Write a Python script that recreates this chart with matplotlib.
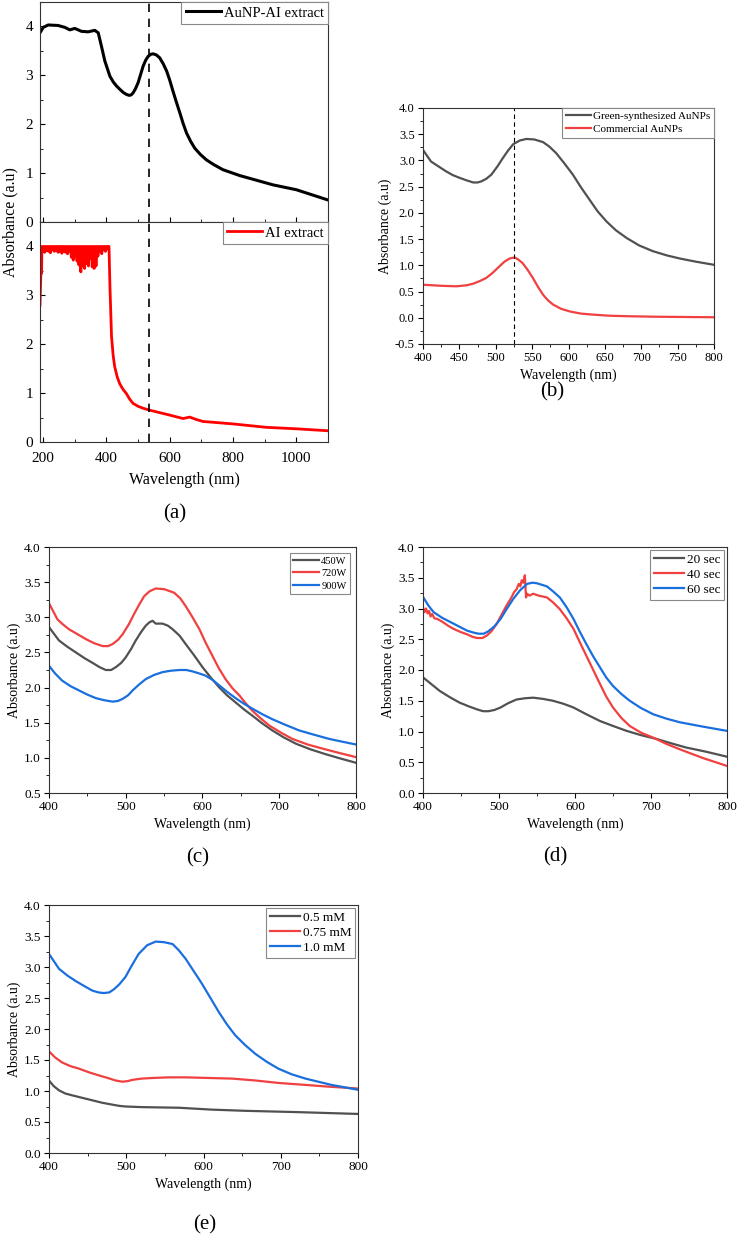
import numpy as np
import matplotlib
matplotlib.use("Agg")
import matplotlib.pyplot as plt
from matplotlib.ticker import FormatStrFormatter

plt.rcParams['font.family'] = ['Liberation Serif', 'DejaVu Serif']
plt.rcParams['lines.solid_joinstyle'] = 'round'

W, H = 738, 1239

# colours (Origin style)
GRAY = '#515151'
RED = '#F14040'
BLUE = '#1A6FDF'

# ---------------- data ----------------
# (a) top: AuNP-AI extract
wl_a1 = [190, 200, 216, 247, 269, 284, 300, 321, 342, 363, 374, 384, 395, 411, 422, 432,
         443, 453, 463, 472, 478, 484, 492, 500, 508, 516, 524, 532, 540, 547, 557, 568,
         579, 590, 600, 610, 621, 632, 642, 653, 666, 679, 697, 716, 740, 768, 821, 926,
         1000, 1100]
abs_a1 = [3.87, 3.98, 4.03, 4.02, 3.98, 3.93, 3.96, 3.90, 3.89, 3.92, 3.87, 3.60, 3.29,
          2.98, 2.86, 2.78, 2.71, 2.65, 2.61, 2.59, 2.60, 2.64, 2.73, 2.85, 3.02, 3.19,
          3.31, 3.39, 3.43, 3.44, 3.42, 3.36, 3.24, 3.09, 2.90, 2.68, 2.45, 2.23, 2.02,
          1.82, 1.65, 1.51, 1.38, 1.27, 1.17, 1.07, 0.95, 0.76, 0.66, 0.45]

# (a) bottom: AI extract (noisy saturated plateau then decay)
wl_a2 = [190, 193, 195] + list(np.arange(196, 407, 3)) + [408, 411, 416, 421, 426, 434,
                                                          442, 452, 463, 473, 484, 500,
                                                          516, 537, 600, 642, 663, 684,
                                                          705, 800, 905, 1000, 1100]
plateau_low = [3.9, 3.88, 3.92, 3.9, 3.87, 3.93, 3.9, 3.92, 3.88, 3.9, 3.86, 3.9, 3.88,
               3.85, 3.9, 3.78, 3.72, 3.8, 3.7, 3.62, 3.48, 3.6, 3.55, 3.65, 3.6, 3.75,
               3.58, 3.55, 3.6, 3.8, 3.9, 3.85, 3.93, 3.9, 3.95]
plateau = []
for i in range(36):
    plateau.append(4.0)
    if i < 35:
        plateau.append(plateau_low[i])
abs_a2 = [2.80, 3.5, 3.45] + plateau + [4.0, 3.18, 2.16, 1.78, 1.54, 1.33, 1.19, 1.08,
                                        0.99, 0.88, 0.79, 0.73, 0.69, 0.65, 0.55, 0.48,
                                        0.51, 0.46, 0.42, 0.37, 0.30, 0.27, 0.23]

# (b)
wl_b1 = [400, 411, 422, 432, 441, 450, 460, 469, 475, 480, 487, 494, 502, 510, 517, 524,
         533, 542, 553, 565, 574, 583, 594, 606, 617, 629, 640, 652, 665, 680, 697, 716,
         735, 753, 775, 800]
abs_b1 = [3.20, 2.98, 2.88, 2.79, 2.72, 2.67, 2.62, 2.58, 2.58, 2.60, 2.65, 2.73, 2.88,
          3.05, 3.19, 3.31, 3.38, 3.41, 3.40, 3.35, 3.26, 3.14, 2.95, 2.73, 2.49, 2.25,
          2.03, 1.84, 1.67, 1.52, 1.38, 1.27, 1.19, 1.13, 1.07, 1.01]
wl_b2 = [400, 425, 446, 460, 469, 478, 487, 496, 505, 512, 519, 526, 531, 537, 544, 551,
         558, 565, 572, 579, 590, 602, 617, 634, 655, 680, 720, 800]
abs_b2 = [0.63, 0.61, 0.60, 0.62, 0.65, 0.70, 0.76, 0.86, 0.98, 1.07, 1.13, 1.15, 1.11,
          1.04, 0.91, 0.76, 0.59, 0.44, 0.33, 0.25, 0.17, 0.12, 0.08, 0.06, 0.04, 0.03,
          0.02, 0.01]

# (c) microwave power
wl_c1 = [400, 413, 424, 435, 446, 457, 466, 474, 481, 487, 494, 500, 507, 513, 520, 526,
         531, 535, 539, 548, 555, 561, 570, 578, 589, 600, 611, 622, 632, 643, 654, 665,
         678, 691, 706, 722, 741, 761, 780, 800]
abs_c1 = [2.86, 2.67, 2.58, 2.50, 2.42, 2.35, 2.29, 2.25, 2.25, 2.29, 2.35, 2.43, 2.55,
          2.67, 2.79, 2.88, 2.93, 2.95, 2.91, 2.91, 2.88, 2.83, 2.74, 2.62, 2.46, 2.29,
          2.14, 2.00, 1.89, 1.79, 1.69, 1.60, 1.49, 1.39, 1.29, 1.20, 1.12, 1.05, 0.99,
          0.93]
wl_c2 = [400, 411, 418, 426, 437, 448, 459, 470, 477, 483, 490, 496, 504, 511, 518, 524,
         531, 539, 550, 563, 571, 578, 587, 596, 604, 613, 621, 630, 639, 648, 656, 665,
         676, 687, 702, 717, 737, 757, 778, 800]
abs_c2 = [3.20, 2.97, 2.90, 2.83, 2.76, 2.69, 2.63, 2.59, 2.59, 2.62, 2.68, 2.76, 2.90,
          3.05, 3.19, 3.30, 3.37, 3.41, 3.40, 3.35, 3.27, 3.16, 3.00, 2.83, 2.64, 2.45,
          2.28, 2.12, 1.99, 1.89, 1.78, 1.67, 1.56, 1.46, 1.36, 1.27, 1.19, 1.13, 1.07,
          1.01]
wl_c3 = [400, 408, 417, 428, 439, 450, 461, 472, 483, 490, 496, 503, 509, 517, 526, 537,
         548, 559, 570, 579, 587, 596, 604, 613, 622, 632, 643, 654, 665, 678, 691, 708,
         726, 745, 765, 782, 800]
abs_c3 = [2.31, 2.20, 2.10, 2.02, 1.96, 1.90, 1.85, 1.82, 1.80, 1.81, 1.84, 1.89, 1.96,
          2.04, 2.12, 2.18, 2.22, 2.24, 2.25, 2.25, 2.23, 2.20, 2.17, 2.11, 2.03, 1.94,
          1.85, 1.77, 1.70, 1.62, 1.55, 1.47, 1.39, 1.33, 1.27, 1.23, 1.19]

# (d) irradiation time
wl_d1 = [400, 411, 422, 435, 448, 460, 471, 479, 486, 494, 502, 512, 523, 534, 545, 558,
         571, 585, 598, 615, 633, 650, 668, 687, 707, 726, 746, 773, 800]
abs_d1 = [1.88, 1.77, 1.66, 1.56, 1.47, 1.41, 1.36, 1.33, 1.33, 1.35, 1.39, 1.46, 1.52,
          1.54, 1.55, 1.53, 1.50, 1.45, 1.39, 1.28, 1.17, 1.09, 1.01, 0.94, 0.88, 0.81,
          0.74, 0.67, 0.59]
wl_d2 = [400, 402, 404, 406, 408, 410, 412, 415, 419, 426, 433, 440, 449, 458, 465, 471,
         478, 484, 490, 497, 503, 510, 516, 520, 523, 526, 528, 530, 532, 534, 535.6, 537,
         540, 545, 552, 563, 571, 580, 589, 598, 606, 615, 624, 633, 641, 650, 661, 672,
         687, 703, 720, 738, 768, 800]
abs_d2 = [3.02, 2.94, 3.00, 2.92, 2.96, 2.87, 2.91, 2.84, 2.83, 2.78, 2.72, 2.67, 2.62,
          2.58, 2.54, 2.52, 2.52, 2.56, 2.63, 2.75, 2.89, 3.05, 3.17, 3.27, 3.31, 3.40,
          3.36, 3.46, 3.42, 3.54, 3.18, 3.24, 3.21, 3.24, 3.21, 3.18, 3.10, 2.99, 2.84,
          2.67, 2.46, 2.23, 2.00, 1.77, 1.57, 1.39, 1.22, 1.09, 0.98, 0.90, 0.80, 0.71,
          0.57, 0.44]
wl_d3 = [400, 407, 414, 425, 436, 447, 458, 466, 473, 480, 486, 494, 502, 510, 519, 528,
         537, 544, 550, 563, 571, 580, 589, 598, 606, 615, 624, 633, 641, 650, 661, 672,
         687, 703, 720, 738, 768, 800]
abs_d3 = [3.19, 3.05, 2.94, 2.85, 2.78, 2.71, 2.64, 2.61, 2.59, 2.59, 2.63, 2.71, 2.83,
          2.99, 3.16, 3.30, 3.40, 3.42, 3.41, 3.36, 3.28, 3.18, 3.02, 2.83, 2.63, 2.42,
          2.22, 2.04, 1.88, 1.74, 1.61, 1.50, 1.38, 1.28, 1.21, 1.15, 1.08, 1.01]

# (e) gold salt concentration
wl_e1 = [400, 406, 413, 421, 430, 443, 456, 469, 482, 491, 499, 520, 568, 610, 655, 720,
         800]
abs_e1 = [1.17, 1.08, 1.01, 0.96, 0.93, 0.89, 0.85, 0.81, 0.78, 0.76, 0.75, 0.74, 0.73,
          0.70, 0.68, 0.66, 0.63]
wl_e2 = [400, 408, 417, 428, 439, 452, 465, 476, 486, 495, 502, 508, 520, 534, 555, 577,
         607, 637, 667, 697, 730, 762, 800]
abs_e2 = [1.64, 1.54, 1.46, 1.40, 1.36, 1.30, 1.25, 1.21, 1.17, 1.15, 1.16, 1.18, 1.20,
          1.21, 1.22, 1.22, 1.21, 1.20, 1.17, 1.13, 1.10, 1.07, 1.04]
wl_e3 = [400, 413, 424, 435, 446, 456, 464, 471, 478, 484, 491, 499, 507, 516, 527, 538,
         549, 560, 568, 577, 587, 598, 609, 620, 630, 641, 654, 667, 682, 697, 714, 732,
         765, 800]
abs_e3 = [3.21, 2.97, 2.86, 2.77, 2.69, 2.62, 2.59, 2.58, 2.59, 2.64, 2.72, 2.84, 3.02,
          3.21, 3.35, 3.41, 3.40, 3.37, 3.27, 3.13, 2.94, 2.73, 2.50, 2.27, 2.08, 1.90,
          1.74, 1.60, 1.47, 1.36, 1.27, 1.20, 1.10, 1.02]


def add_ax(x0, y0, x1, y1):
    return fig.add_axes([x0 / W, 1 - y1 / H, (x1 - x0) / W, (y1 - y0) / H])


def style(ax, size=8, direction='out'):
    ax.tick_params(which='both', direction=direction, labelsize=size, top=False,
                   right=False, pad=2.5)
    ax.tick_params(which='major', length=3.5)
    ax.tick_params(which='minor', length=2)
    for s in ax.spines.values():
        s.set_color('#333333')
        s.set_linewidth(0.8)


def legend(ax, fs, hl=2.4, sp=0.25, **kw):
    leg = ax.legend(loc='upper right', fontsize=fs, fancybox=False, framealpha=1,
                    edgecolor='#888888', handlelength=hl, handletextpad=0.2,
                    labelspacing=sp, borderpad=0.3, **kw)
    leg.get_frame().set_linewidth(0.8)
    return leg


def uv_axes(ax, ymin, ystep_major, xstep, lab_fs=10, tick_fs=9.5):
    ax.set_xlim(400, 800)
    ax.set_ylim(ymin, 4.0)
    ax.set_xticks(np.arange(400, 801, xstep))
    ax.set_xticks(np.arange(400, 801, xstep / 2), minor=True)
    ax.set_yticks(np.arange(ymin, 4.01, ystep_major))
    ax.set_yticks(np.arange(ymin, 4.01, ystep_major / 2), minor=True)
    ax.yaxis.set_major_formatter(FormatStrFormatter('%.1f'))
    style(ax, tick_fs)
    ax.set_xlabel('Wavelength (nm)', fontsize=lab_fs, labelpad=3)
    ax.set_ylabel('Absorbance (a.u)', fontsize=lab_fs, labelpad=2)


fig = plt.figure(figsize=(W / 100, H / 100), dpi=100)

# ---------- (a) ----------
ax1 = add_ax(40, 2, 328, 222)
ax1.plot(wl_a1, abs_a1, color='black', lw=2.2, label='AuNP-AI extract')
ax1.axvline(535, color='black', ls=(0, (5, 4)), lw=1.2)
ax1.set_xlim(190, 1100)
ax1.set_ylim(0, 4.5)
ax1.set_yticks([0, 1, 2, 3, 4])
ax1.set_yticks(np.arange(0, 4.6, 0.5), minor=True)
ax1.set_xticks([200, 400, 600, 800, 1000])
ax1.set_xticks(np.arange(200, 1101, 100), minor=True)
ax1.set_xticklabels([])
style(ax1, 11, 'in')
ax1.tick_params(axis='y', pad=5)
legend(ax1, 10.5, hl=2.4, borderaxespad=0)

ax2 = add_ax(40, 222, 328, 442)
ax2.plot(wl_a2, abs_a2, color='#FF0000', lw=2.0, label='AI extract')
ax2.axvline(535, color='black', ls=(0, (5, 4)), lw=1.2)
ax2.set_xlim(190, 1100)
ax2.set_ylim(0, 4.5)
ax2.set_yticks([0, 1, 2, 3, 4])
ax2.set_yticks(np.arange(0, 4.6, 0.5), minor=True)
ax2.set_xticks([200, 400, 600, 800, 1000])
ax2.set_xticks(np.arange(200, 1101, 100), minor=True)
style(ax2, 11, 'in')
ax2.tick_params(axis='y', pad=5)
ax2.tick_params(axis='x', pad=7)
ax2.set_xlabel('Wavelength (nm)', fontsize=11.5, labelpad=5)
legend(ax2, 10.5, hl=2.4, borderaxespad=0)
fig.text(10 / W, 1 - 222 / H, 'Absorbance (a.u)', rotation=90, fontsize=11.5,
         ha='center', va='center')
fig.text(175 / W, 1 - 514 / H, '(a)', fontsize=15, ha='center', va='center')

# ---------- (b) ----------
axb = add_ax(423, 108, 714, 344)
axb.plot(wl_b1, abs_b1, color=GRAY, lw=1.6, label='Green-synthesized AuNPs')
axb.plot(wl_b2, abs_b2, color=RED, lw=1.6, label='Commercial AuNPs')
axb.axvline(525, color='black', ls=(0, (4, 3)), lw=0.8)
uv_axes(axb, -0.5, 0.5, 50, lab_fs=10, tick_fs=9)
legend(axb, 8, hl=2.3, sp=0.3, borderaxespad=0)
fig.text(552 / W, 1 - 392 / H, '(b)', fontsize=15, ha='center', va='center')

# ---------- (c) ----------
axc = add_ax(49, 547, 356, 793)
axc.plot(wl_c1, abs_c1, color=GRAY, lw=1.6, label='450W')
axc.plot(wl_c2, abs_c2, color=RED, lw=1.6, label='720W')
axc.plot(wl_c3, abs_c3, color=BLUE, lw=1.6, label='900W')
uv_axes(axc, 0.5, 0.5, 100)
legend(axc, 7.5, hl=2.5, sp=0.3, borderaxespad=0.6)
fig.text(198 / W, 1 - 858 / H, '(c)', fontsize=15, ha='center', va='center')

# ---------- (d) ----------
axd = add_ax(423, 547, 727, 793)
axd.plot(wl_d1, abs_d1, color=GRAY, lw=1.6, label='20 sec')
axd.plot(wl_d2, abs_d2, color=RED, lw=1.6, label='40 sec')
axd.plot(wl_d3, abs_d3, color=BLUE, lw=1.6, label='60 sec')
uv_axes(axd, 0.0, 0.5, 100)
legend(axd, 9.5, hl=2.3, sp=0.22, borderaxespad=0.2)
fig.text(555 / W, 1 - 857 / H, '(d)', fontsize=15, ha='center', va='center')

# ---------- (e) ----------
axe = add_ax(49, 905, 358, 1153)
axe.plot(wl_e1, abs_e1, color=GRAY, lw=1.6, label='0.5 mM')
axe.plot(wl_e2, abs_e2, color=RED, lw=1.6, label='0.75 mM')
axe.plot(wl_e3, abs_e3, color=BLUE, lw=1.6, label='1.0 mM')
uv_axes(axe, 0.0, 0.5, 100)
legend(axe, 9.5, hl=2.3, sp=0.2, borderaxespad=0.2)
fig.text(205 / W, 1 - 1225 / H, '(e)', fontsize=15, ha='center', va='center')

fig.savefig('out.png', dpi=100)
